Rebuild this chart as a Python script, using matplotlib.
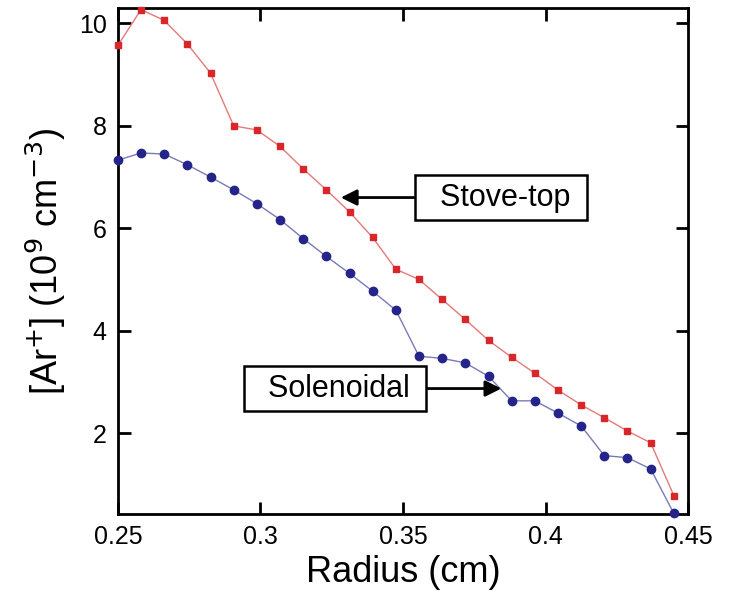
import matplotlib.pyplot as plt
import numpy as np

plt.rcParams['font.family'] = ['Liberation Sans', 'DejaVu Sans']

# radius positions (cm), 25 points from 0.25 to 0.445
radius = np.linspace(0.25, 0.445, 25)

stove_top = [9.57, 10.27, 10.06, 9.60, 9.03, 8.00, 7.92, 7.60, 7.16, 6.75,
             6.32, 5.82, 5.20, 5.00, 4.61, 4.22, 3.81, 3.48, 3.17, 2.84,
             2.55, 2.30, 2.04, 1.81, 0.78]
solenoidal = [7.33, 7.47, 7.45, 7.24, 7.00, 6.75, 6.48, 6.17, 5.80, 5.45,
              5.12, 4.77, 4.40, 3.50, 3.46, 3.37, 3.11, 2.63, 2.63, 2.39,
              2.14, 1.56, 1.52, 1.30, 0.43]

xticks = [0.25, 0.3, 0.35, 0.4, 0.45]
xticklabels = ['0.25', '0.3', '0.35', '0.4', '0.45']
yticks = [2, 4, 6, 8, 10]

fig = plt.figure(figsize=(7.32, 6.03), dpi=100)
ax = fig.add_axes([0.161, 0.1476, 0.779, 0.839])

ax.plot(radius, stove_top, color='#e87878', lw=1, marker='s', ms=4.5,
        mfc='#d8262a', mec='#d8262a', clip_on=False, zorder=3)
ax.plot(radius, solenoidal, color='#7a7ab8', lw=1, marker='o', ms=6,
        mfc='#24248a', mec='#24248a', clip_on=False, zorder=3)

ax.set_xlim(0.25, 0.45)
ax.set_ylim(0.42, 10.3)
ax.set_xticks(xticks)
ax.set_xticklabels(xticklabels)
ax.set_yticks(yticks)
ax.tick_params(direction='in', length=9, width=2, labelsize=18,
               top=True, right=True, pad=8)
for s in ax.spines.values():
    s.set_linewidth(2)

ax.set_xlabel('Radius (cm)', fontsize=26, labelpad=4)
ax.set_ylabel(r'[Ar$^{+}$] (10$^{9}$ cm$^{-3}$)', fontsize=26, labelpad=8)

box = dict(boxstyle='square,pad=0.25', fc='white', ec='black', lw=1.8)
arrow = dict(arrowstyle='-|>', color='black', lw=2, mutation_scale=24,
             shrinkA=0, shrinkB=0)
ax.annotate('  Stove-top ', xy=(0.3282, 6.6), xytext=(0.3844, 6.6),
            fontsize=22, ha='center', va='center', bbox=box,
            arrowprops=arrow)
ax.annotate('  Solenoidal ', xy=(0.3845, 2.87), xytext=(0.3262, 2.87),
            fontsize=22, ha='center', va='center', bbox=box,
            arrowprops=arrow)

plt.savefig('out.png', dpi=100)
